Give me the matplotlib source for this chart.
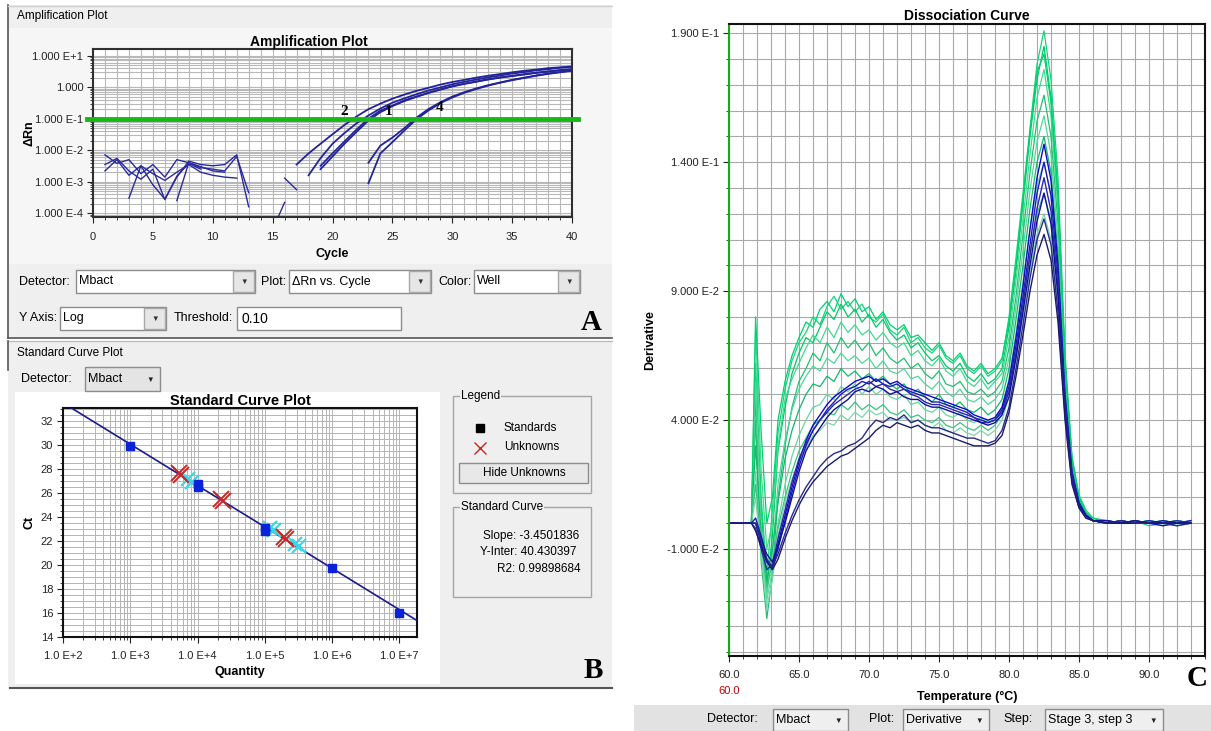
import matplotlib.pyplot as plt
import numpy as np
from matplotlib.patches import Rectangle
from matplotlib.ticker import FixedLocator, MultipleLocator, LogLocator, NullFormatter

plt.rcParams['font.family'] = ['Liberation Sans', 'DejaVu Sans']

W, H = 1211, 731
nan = np.nan

# ---------------- A: amplification plot ----------------
noise_cycles = list(range(1, 14))
noise_runs = [
    [7.1e-3, 3.8e-3, 5.0e-3, 1.8e-3, 3.5e-3, 1.4e-3, 5.0e-3, 4.0e-3, 2.8e-3, 2.5e-3, 2.2e-3, 6.3e-3, 4.5e-4],
    [2.2e-3, 5.0e-3, 1.6e-3, 3.2e-3, 8.0e-4, 2.8e-4, 1.4e-3, 4.5e-3, 3.5e-3, 3.2e-3, 3.5e-3, 7.1e-3, 1.6e-4],
    [nan, nan, 3.0e-4, 3.2e-3, 1.8e-3, 1.1e-3, 2.0e-3, 3.5e-3, 2.0e-3, 1.6e-3, 1.4e-3, 1.3e-3, nan],
    [3.5e-3, 5.5e-3, 2.2e-3, 1.2e-3, 2.5e-3, 2.7e-4, 1.5e-3, 3.8e-3, 2.5e-3, nan, nan, nan, nan],
    [nan, nan, nan, nan, nan, nan, 2.5e-4, 4.0e-3, 3.0e-3, 2.2e-3, 2.0e-3, nan, nan],
]
# short pieces near cycle 15-17
piece_cycles = [[16, 17], [15, 16]]
piece_rn = [[1.3e-3, 5.6e-4], [3.0e-5, 2.2e-4]]

# amplification curves: first cycle and ΔRn from there to cycle 40
amp_first_cycle = [17, 18, 19, 19, 23, 23]
amp_rn = [
    [3.5e-3, 7.9e-3, 1.6e-2, 3.2e-2, 6.3e-2, 0.117, 0.20, 0.30, 0.43, 0.58, 0.76, 0.95,
     1.20, 1.45, 1.70, 2.0, 2.3, 2.6, 2.95, 3.3, 3.6, 4.0, 4.25, 4.55],
    [1.6e-3, 5.6e-3, 1.6e-2, 3.5e-2, 7.1e-2, 0.126, 0.21, 0.32, 0.44, 0.59, 0.78, 0.98,
     1.23, 1.48, 1.74, 2.04, 2.34, 2.7, 3.0, 3.4, 3.7, 4.1, 4.4],
    [3.2e-3, 7.9e-3, 1.9e-2, 4.5e-2, 0.10, 0.18, 0.26, 0.38, 0.50, 0.66, 0.85, 1.07,
     1.29, 1.51, 1.78, 2.04, 2.29, 2.57, 2.88, 3.16, 3.47, 3.72],
    [2.5e-3, 6.3e-3, 1.6e-2, 3.8e-2, 8.7e-2, 0.16, 0.25, 0.36, 0.49, 0.65, 0.83, 1.05,
     1.26, 1.48, 1.74, 2.0, 2.24, 2.51, 2.82, 3.09, 3.39, 3.63],
    [4.0e-3, 1.4e-2, 2.5e-2, 5.0e-2, 0.107, 0.20, 0.33, 0.50, 0.69, 0.91, 1.15, 1.41,
     1.70, 2.0, 2.34, 2.69, 3.02, 3.39],
    [8.9e-4, 7.9e-3, 1.8e-2, 4.2e-2, 9.5e-2, 0.18, 0.31, 0.47, 0.66, 0.87, 1.12, 1.38,
     1.66, 1.95, 2.29, 2.63, 2.95, 3.31],
]
threshold = 0.10
well_names = ['2', '1', '4']
well_cycle = [21.0, 24.7, 28.9]
well_rn = [0.17, 0.17, 0.22]
amp_yticks = [1e-4, 1e-3, 1e-2, 1e-1, 1e0, 1e1]
amp_ylabels = ['1.000 E-4', '1.000 E-3', '1.000 E-2', '1.000 E-1', '1.000', '1.000 E+1']

# ---------------- B: standard curve ----------------
slope, intercept, r2 = -3.4501836, 40.430397, 0.99898684
std_qty = [1e3, 1e4, 1e4, 1e5, 1e5, 1e6, 1e7]
std_ct = [29.95, 26.55, 26.8, 22.8, 23.1, 19.75, 16.0]
unk_red_qty = [5.3e3, 5.7e3, 2.2e4, 2.4e4, 1.9e5, 2.1e5]
unk_red_ct = [27.65, 27.5, 25.5, 25.35, 22.3, 22.15]
unk_cyan_qty = [7.3e3, 8.3e3, 1.2e5, 1.35e5, 2.8e5, 3.2e5]
unk_cyan_ct = [27.15, 26.95, 23.1, 22.9, 21.75, 21.55]
std_xticks = [1e2, 1e3, 1e4, 1e5, 1e6, 1e7]
std_xlabels = ['1.0 E+2', '1.0 E+3', '1.0 E+4', '1.0 E+5', '1.0 E+6', '1.0 E+7']

# ---------------- C: dissociation curves (derivative x 1e-3) ----------------
melt_temp = [60.0, 61.6, 61.9, 62.3, 62.7, 63.1, 63.5,
             64.0, 64.5, 65.0, 65.5, 66.0, 66.5, 67.0, 67.5, 68.0, 68.5, 69.0, 69.5,
             70.0, 70.5, 71.0, 71.5, 72.0, 72.5, 73.0, 73.5, 74.0, 74.5, 75.0, 75.5,
             76.0, 76.5, 77.0, 77.5, 78.0, 78.5, 79.0, 79.5,
             80.0, 80.5, 81.0, 81.5, 82.0, 82.5, 83.0, 83.5, 84.0, 84.5, 85.0, 85.5, 86.0,
             87.0, 88.0, 89.0, 90.0, 91.0, 92.0, 93.0]
green_wells = [
    [0, 0, 62, 10, -20, 5, 35,
     52, 63, 70, 74, 80, 77, 84, 88, 83, 86, 82, 85, 80, 78, 81, 75, 73, 76, 70, 72, 68, 66, 69, 64, 62, 65, 60, 58, 61, 57, 59, 63,
     80, 103, 128, 153, 178, 191, 172, 134, 66, 26, 11, 5, 2,
     1, 0, 1, -1, 0, 1, 0],
    [0, 0, 48, 5, -25, -5, 28,
     45, 58, 66, 72, 70, 76, 82, 79, 85, 80, 83, 78, 81, 76, 79, 74, 71, 73, 68, 70, 66, 63, 65, 61, 59, 62, 57, 55, 58, 54, 56, 60,
     76, 98, 124, 150, 172, 185, 165, 128, 62, 24, 10, 4, 2,
     0, 1, 0, 1, 0, -1, 0],
    [0, 0, 75, 20, -10, 0, 30,
     48, 56, 62, 68, 73, 70, 76, 72, 78, 74, 77, 73, 75, 71, 74, 70, 68, 70, 65, 67, 63, 61, 64, 59, 57, 60, 55, 53, 56, 52, 55, 58,
     72, 94, 118, 143, 165, 176, 158, 122, 60, 24, 10, 4, 1,
     1, 0, 0, 1, 0, 0, 1],
    [0, 0, 40, -15, -37, -20, 10,
     30, 45, 55, 60, 66, 63, 70, 66, 72, 68, 71, 67, 70, 65, 68, 64, 62, 64, 60, 62, 58, 56, 59, 54, 53, 55, 51, 50, 52, 49, 51, 55,
     68, 88, 112, 136, 156, 166, 150, 116, 57, 23, 9, 4, 1,
     0, 1, 0, 0, 1, 0, 0],
    [0, 0, 55, 0, -28, -12, 15,
     32, 44, 52, 57, 61, 59, 64, 62, 66, 63, 65, 62, 64, 60, 63, 59, 58, 60, 56, 57, 54, 52, 55, 51, 49, 52, 48, 47, 49, 46, 48, 52,
     64, 84, 106, 129, 148, 158, 143, 110, 54, 22, 9, 3, 1,
     1, 0, 1, 0, 0, 1, 0],
    [0, 0, 30, -5, -22, -10, 8,
     25, 36, 44, 50, 54, 53, 57, 55, 60, 57, 59, 56, 58, 55, 57, 54, 52, 54, 50, 52, 49, 47, 50, 46, 45, 47, 44, 43, 45, 42, 44, 48,
     60, 79, 100, 122, 140, 150, 136, 104, 52, 21, 8, 3, 1,
     0, 0, 1, 0, 1, 0, 0],
    [0, 0, 20, -10, -30, -18, 0,
     15, 26, 34, 40, 45, 46, 50, 48, 53, 51, 54, 50, 53, 50, 52, 49, 48, 50, 46, 47, 44, 43, 45, 42, 41, 43, 40, 39, 41, 39, 41, 45,
     56, 74, 94, 114, 131, 140, 127, 98, 49, 20, 8, 3, 1,
     0, 1, 0, 1, 0, 0, 1],
    [0, 0, 15, -8, -25, -15, -2,
     10, 20, 28, 33, 38, 40, 43, 42, 46, 44, 47, 44, 46, 44, 46, 43, 42, 44, 41, 42, 40, 39, 41, 38, 37, 39, 37, 36, 38, 36, 38, 42,
     52, 68, 86, 104, 120, 128, 117, 90, 45, 18, 7, 3, 1,
     0, 0, 0, 1, 0, 1, 0],
    [0, 0, 10, -12, -33, -22, -5,
     8, 17, 24, 29, 34, 36, 39, 38, 42, 40, 43, 41, 44, 42, 43, 40, 40, 41, 39, 40, 38, 37, 39, 36, 35, 37, 35, 34, 36, 34, 36, 40,
     49, 64, 81, 98, 112, 120, 110, 85, 43, 17, 7, 2, 1,
     1, 0, 0, 0, 1, 0, 0],
    [0, 0, 80, 35, 0, 10, 40,
     55, 65, 72, 78, 76, 83, 86, 82, 89, 84, 87, 82, 84, 79, 82, 77, 75, 77, 72, 73, 70, 67, 70, 65, 63, 66, 61, 59, 62, 58, 60, 64,
     78, 100, 126, 152, 175, 182, 163, 126, 62, 25, 10, 4, 1,
     0, 0, 1, 0, 0, 1, 0],
]
blue_wells = [
    [0, 0, 0, -8, -15, -17, -8,
     3, 14, 24, 32, 38, 42, 46, 49, 51, 53, 55, 56, 57, 55, 56, 54, 55, 53, 52, 51, 50, 49, 48, 47, 46, 45, 44, 42, 41, 40, 41, 45,
     55, 72, 92, 114, 134, 147, 133, 100, 50, 20, 8, 3, 1,
     0, 1, 0, 0, -1, 0, 1],
    [0, 0, 2, -5, -14, -18, -10,
     1, 12, 22, 30, 36, 40, 44, 47, 50, 52, 53, 55, 54, 56, 54, 53, 54, 52, 51, 50, 49, 47, 47, 46, 45, 44, 43, 41, 40, 39, 40, 44,
     53, 69, 88, 108, 128, 140, 127, 96, 48, 19, 8, 3, 1,
     1, 0, 0, 1, 0, 0, 0],
    [0, 0, -2, -10, -18, -16, -6,
     5, 16, 25, 31, 36, 40, 43, 46, 48, 50, 52, 53, 55, 53, 54, 52, 51, 52, 50, 49, 47, 46, 46, 45, 44, 43, 42, 41, 39, 39, 40, 43,
     51, 66, 85, 104, 122, 134, 121, 92, 46, 18, 7, 3, 1,
     0, 0, 1, 0, 0, 1, 0],
    [0, 0, 0, -6, -12, -15, -9,
     0, 10, 20, 28, 33, 37, 41, 44, 46, 48, 51, 52, 51, 53, 52, 50, 51, 49, 48, 48, 46, 45, 45, 44, 43, 42, 41, 40, 39, 38, 39, 42,
     49, 64, 82, 100, 117, 128, 116, 88, 44, 17, 7, 3, 1,
     1, 0, 0, 0, 1, 0, 0],
    [0, 0, 0, -7, -14, -17, -12,
     -4, 3, 9, 14, 18, 22, 25, 27, 28, 30, 31, 33, 37, 40, 39, 41, 40, 42, 39, 40, 38, 37, 37, 36, 35, 34, 33, 33, 32, 31, 32, 36,
     45, 60, 77, 95, 110, 118, 108, 82, 42, 16, 6, 2, 1,
     0, 1, 0, 0, 0, -1, 0],
    [0, 0, -3, -9, -15, -18, -14,
     -6, 1, 7, 12, 16, 19, 22, 24, 26, 27, 29, 31, 33, 36, 38, 37, 39, 38, 37, 38, 36, 35, 35, 34, 33, 32, 31, 30, 30, 30, 31, 34,
     43, 57, 73, 90, 104, 112, 102, 78, 40, 15, 6, 2, 1,
     0, 0, 1, 0, 0, 0, 0],
]
green_colors = ['#17d47a', '#00c864', '#3ddc8c', '#20c070', '#4fd69a',
                '#12b868', '#62d8a0', '#38c47e', '#7ad6a8', '#00d070']
blue_colors = ['#0a0acc', '#1c1cb4', '#2828a8', '#10109a', '#2a2a8c', '#1a1a70']
deriv_ticks = [-0.01, 0.04, 0.09, 0.14, 0.19]
deriv_labels = ['-1.000 E-2', '4.000 E-2', '9.000 E-2', '1.400 E-1', '1.900 E-1']
temp_ticks = [60, 65, 70, 75, 80, 85, 90]


fig = plt.figure(figsize=(W / 100, H / 100), dpi=100)
bg = fig.add_axes([0, 0, 1, 1])
bg.set_xlim(0, W)
bg.set_ylim(H, 0)
bg.axis('off')


def px_axes(x0, y0, x1, y1):
    return fig.add_axes([x0 / W, 1 - y1 / H, (x1 - x0) / W, (y1 - y0) / H])


def rect(x0, y0, x1, y1, fc='none', ec='none', lw=1.0, z=1):
    bg.add_patch(Rectangle((x0, y0), x1 - x0, y1 - y0, facecolor=fc,
                           edgecolor=ec, linewidth=lw, zorder=z))


def label(x, y, s, size=8.5, ha='left', **kw):
    bg.text(x, y, s, fontsize=size, ha=ha, va='center', zorder=6, **kw)


def combo(x0, y0, x1, y1, s, btn=22, fc='white'):
    rect(x0, y0, x1, y1, fc=fc, ec='#8c8c8c', z=3)
    if btn:
        rect(x1 - btn, y0 + 1, x1 - 1, y1 - 1, fc='#e6e6e6', ec='#a8a8a8', z=4)
        label(x1 - btn / 2, (y0 + y1) / 2 + 1, '▼', size=5.5, ha='center', color='#333333')
    else:
        label(x1 - 10, (y0 + y1) / 2 + 1, '▼', size=5.5, ha='center', color='#222222')
    label(x0 + 3, (y0 + y1) / 2, s, size=9)


def group_box(x0, y0, x1, y1, title):
    rect(x0, y0, x1, y1, ec='#a6a6a6', z=3)
    bg.text(x0 + 8, y0, title, fontsize=8.5, va='center', ha='left', zorder=6,
            bbox=dict(facecolor='#efefef', edgecolor='none', pad=0.5))


# ---------------- panel frames / widgets ----------------
rect(8, 5, 612, 338, fc='#efefef', z=0)
rect(8, 28, 612, 264, fc='#f6f6f6', z=0.5)
bg.plot([8, 8], [5, 338], color='#555555', lw=1.2, zorder=2)
bg.plot([8, 612], [338, 338], color='#555555', lw=1.2, zorder=2)
bg.plot([8, 612], [6, 6], color='#cfcfcf', lw=1, zorder=2)
label(17, 16, 'Amplification Plot', size=8.5)

label(19, 282, 'Detector:', size=9)
combo(76, 270, 255, 293, 'Mbact')
label(261, 282, 'Plot:', size=9)
combo(289, 270, 431, 293, 'ΔRn vs. Cycle')
label(438, 282, 'Color:', size=9)
combo(474, 270, 580, 293, 'Well')
label(19, 318, 'Y Axis:', size=9)
combo(60, 307, 166, 330, 'Log')
label(174, 318, 'Threshold:', size=9)
rect(237, 307, 401, 330, fc='white', ec='#8c8c8c', z=3)
label(242, 319, '0.10', size=10)
label(591, 323, 'A', size=21, ha='center', family='Liberation Serif', weight='bold')

rect(8, 341, 612, 688, fc='#efefef', z=0)
bg.plot([8, 612], [341, 341], color='#bdbdbd', lw=1, zorder=2)
bg.plot([8, 8], [341, 370], color='#555555', lw=1.2, zorder=2)
bg.plot([10, 612], [688, 688], color='#555555', lw=1.5, zorder=2)
label(17, 353, 'Standard Curve Plot', size=8.5)
label(21, 379, 'Detector:', size=9)
combo(85, 367, 160, 391, 'Mbact', btn=0, fc='#e4e4e4')
rect(15, 392, 440, 684, fc='white', z=1)

group_box(453, 396, 591, 493, 'Legend')
bg.plot([480], [428], marker='s', ms=6, color='black', ls='none', zorder=6)
label(504, 428, 'Standards', size=8.5)
bg.plot([480], [448], marker='x', ms=8, mew=1, color='#cc2222', ls='none', zorder=6)
label(504, 447, 'Unknowns', size=8.5)
rect(459, 463, 588, 483, fc='#e8e8e8', ec='#8c8c8c', z=4)
label(524, 473, 'Hide Unknowns', size=8.5, ha='center')

group_box(453, 507, 591, 597, 'Standard Curve')
label(579, 536, 'Slope: %.7f' % slope, size=8.5, ha='right')
label(576, 552, 'Y-Inter: %.6f' % intercept, size=8.5, ha='right')
label(581, 569, 'R2: %.8f' % r2, size=8.5, ha='right')
label(593, 670, 'B', size=21, ha='center', family='Liberation Serif', weight='bold')

rect(634, 705, 1211, 731, fc='#e2e2e2', z=0)
label(707, 719, 'Detector:', size=9)
combo(773, 709, 848, 731, 'Mbact', btn=0, fc='#efefef')
label(869, 719, 'Plot:', size=9)
combo(903, 709, 989, 731, 'Derivative', btn=0, fc='#efefef')
label(1003, 719, 'Step:', size=9)
combo(1045, 709, 1163, 731, 'Stage 3, step 3', btn=0, fc='#efefef')
label(1197, 678, 'C', size=21, ha='center', family='Liberation Serif', weight='bold')


def style_ticks(ax, size=8):
    ax.tick_params(which='both', direction='out', colors='#222222', labelsize=size, pad=3)
    ax.tick_params(which='major', length=4, width=0.8)
    ax.tick_params(which='minor', length=2, width=0.6)


# ---------------- A ----------------
ax = px_axes(93, 49, 572, 217)
ax.set_yscale('log')
for run in noise_runs:
    ax.plot(noise_cycles, run, color='#2a2aa0', lw=1.0)
for cyc, rn in zip(piece_cycles, piece_rn):
    ax.plot(cyc, rn, color='#2a2aa0', lw=1.0)
for first, rn in zip(amp_first_cycle, amp_rn):
    ax.plot(np.arange(first, first + len(rn)), rn, color='#23239a', lw=1.3)
ax.plot([-0.012, 1.013], [threshold, threshold], transform=ax.get_yaxis_transform(),
        color='#16b816', lw=3.5, clip_on=False, zorder=5)
for name, c, v in zip(well_names, well_cycle, well_rn):
    ax.text(c, v, name, fontsize=11, weight='bold', family='Liberation Serif',
            ha='center', va='center', zorder=6)
ax.set_xlim(0, 40)
ax.set_ylim(7.6e-5, 16.2)
ax.set_xticks(range(0, 41, 5))
ax.xaxis.set_minor_locator(MultipleLocator(1))
ax.set_yticks(amp_yticks)
ax.set_yticklabels(amp_ylabels)
ax.yaxis.set_minor_locator(LogLocator(base=10, subs=np.arange(2, 10)))
ax.yaxis.set_minor_formatter(NullFormatter())
ax.grid(True, which='both', color='#b8b8b8', lw=0.8)
ax.set_axisbelow(True)
for s in ax.spines.values():
    s.set_color('#303030')
    s.set_linewidth(1.5)
style_ticks(ax)
ax.tick_params(axis='x', pad=7)
ax.set_xlabel('Cycle', fontsize=9, weight='bold', labelpad=4)
ax.set_ylabel('ΔRn', fontsize=9, weight='bold', labelpad=-2)
ax.set_title('Amplification Plot', fontsize=10, weight='bold', pad=2, x=0.45)

# ---------------- B ----------------
bx = px_axes(63, 408, 417, 637)
bx.set_xscale('log')
q_line = np.array([1e2, 1.83e7])
bx.plot(q_line, slope * np.log10(q_line) + intercept, color='#1a1a8c', lw=1.2, zorder=3)
bx.plot(unk_cyan_qty, unk_cyan_ct, ls='none', marker='x', ms=10, mew=1.6,
        color='#3cd6e6', zorder=4)
bx.plot(unk_red_qty, unk_red_ct, ls='none', marker='x', ms=11, mew=1.4,
        color='#c82828', zorder=5)
bx.plot(std_qty, std_ct, ls='none', marker='s', ms=6, color='#0a22d8', zorder=6)
bx.set_xlim(1e2, 1.83e7)
bx.set_ylim(14, 33.1)
bx.set_xticks(std_xticks)
bx.set_xticklabels(std_xlabels)
bx.xaxis.set_minor_locator(LogLocator(base=10, subs=np.arange(2, 10)))
bx.xaxis.set_minor_formatter(NullFormatter())
bx.set_yticks(range(14, 33, 2))
bx.yaxis.set_minor_locator(MultipleLocator(0.5))
bx.grid(True, which='both', color='#b4b4b4', lw=0.7)
bx.set_axisbelow(True)
for s in bx.spines.values():
    s.set_color('#111111')
    s.set_linewidth(1.5)
style_ticks(bx)
bx.tick_params(axis='x', pad=6)
bx.set_xlabel('Quantity', fontsize=9, weight='bold', labelpad=4)
bx.set_ylabel('Ct', fontsize=9, weight='bold', labelpad=4)
bx.set_title('Standard Curve Plot', fontsize=10.5, weight='bold', pad=2)

# ---------------- C ----------------
cx = px_axes(729, 24, 1205, 656)
for vals, col in zip(green_wells, green_colors):
    cx.plot(melt_temp, np.array(vals) * 1e-3, color=col, lw=0.9)
for vals, col in zip(blue_wells, blue_colors):
    cx.plot(melt_temp, np.array(vals) * 1e-3, color=col, lw=1.0)
cx.set_xlim(60, 94)
cx.set_ylim(-0.0515, 0.1936)
cx.set_xticks(temp_ticks)
cx.set_xticklabels(['%.1f' % t for t in temp_ticks])
cx.xaxis.set_minor_locator(MultipleLocator(1))
cx.set_yticks(deriv_ticks)
cx.set_yticklabels(deriv_labels)
cx.yaxis.set_minor_locator(FixedLocator(np.arange(-0.05, 0.195, 0.01)))
cx.grid(True, which='both', color='#a9a9a9', lw=0.8)
cx.set_axisbelow(True)
for s in cx.spines.values():
    s.set_color('#111111')
    s.set_linewidth(1.5)
cx.spines['left'].set_color('#1aa81a')
style_ticks(cx)
cx.tick_params(axis='x', pad=6)
cx.text(60, -0.0515 - 0.0115, '60.0', fontsize=8, color='#c00000',
        ha='center', va='top')
cx.set_xlabel('Temperature (°C)', fontsize=9, weight='bold', labelpad=8)
cx.set_ylabel('Derivative', fontsize=9, weight='bold', labelpad=8)
cx.set_title('Dissociation Curve', fontsize=10, weight='bold', pad=3)

fig.savefig('out.png', dpi=100)
